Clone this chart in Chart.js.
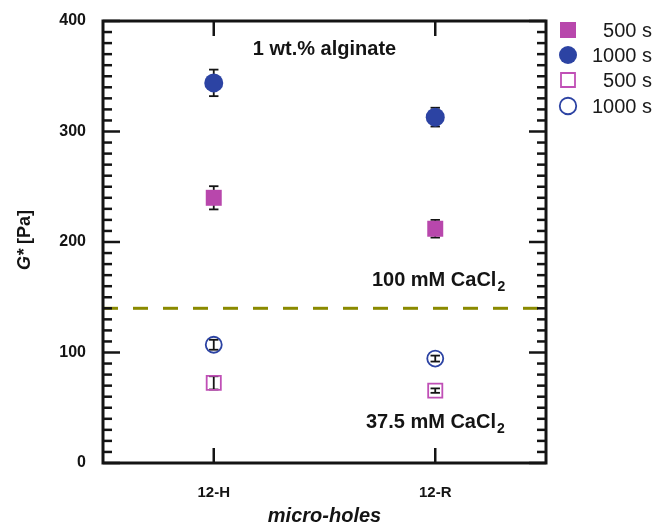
<!DOCTYPE html>
<html><head><meta charset="utf-8">
<script src="https://cdn.jsdelivr.net/npm/chart.js@4"></script>
<style>html,body{margin:0;padding:0;background:#fff;} #wrap{width:656px;height:524px;}</style>
</head><body><div id="wrap"><canvas id="c" width="656" height="524"></canvas></div>
<script>
// ---- data ----
const categories = ['12-H', '12-R'];
const xPos = [1, 2];
const yTicks = [0, 100, 200, 300, 400];
const seriesLabels = ['500 s', '1000 s', '500 s', '1000 s'];
// 100 mM CaCl2 (filled)
const g500Ca100 = [240, 212];
const e500Ca100 = [10.5, 8];
const g1000Ca100 = [344, 313];
const e1000Ca100 = [12, 8.5];
// 37.5 mM CaCl2 (open)
const g500Ca37 = [72.5, 65.5];
const e500Ca37 = [6, 2];
const g1000Ca37 = [107, 94.5];
const e1000Ca37 = [4.5, 2.7];
const separatorLevel = 140;

const MAG = '#B847AC', BLUE = '#2C43A3', OLIVE = '#8A8A00', INK = '#141414';
const FONT = '"Liberation Sans", Arial, sans-serif';

const pts = (vals, errs) => vals.map((v, i) => ({x: xPos[i], y: v, err: errs[i]}));

const datasets = [
  {label: seriesLabels[0], data: pts(g500Ca100, e500Ca100), pointStyle: 'rect', pointRadius: 11.3,
   backgroundColor: MAG, borderColor: MAG, borderWidth: 0, showLine: false},
  {label: seriesLabels[1], data: pts(g1000Ca100, e1000Ca100), pointStyle: 'circle', pointRadius: 9.5,
   backgroundColor: BLUE, borderColor: BLUE, borderWidth: 0, showLine: false},
  {label: seriesLabels[2], data: pts(g500Ca37, e500Ca37), pointStyle: 'rect', pointRadius: 10,
   backgroundColor: 'rgba(0,0,0,0)', borderColor: '#C04FB6', borderWidth: 1.8, showLine: false},
  {label: seriesLabels[3], data: pts(g1000Ca37, e1000Ca37), pointStyle: 'circle', pointRadius: 8,
   backgroundColor: 'rgba(0,0,0,0)', borderColor: BLUE, borderWidth: 1.8, showLine: false},
  {label: 'sep', type: 'line', data: [{x: 0.5, y: separatorLevel}, {x: 2.5, y: separatorLevel}],
   borderColor: OLIVE, borderWidth: 3, borderDash: [15, 15], pointRadius: 0, fill: false}
];

function line(ctx, x1, y1, x2, y2) { ctx.beginPath(); ctx.moveTo(x1, y1); ctx.lineTo(x2, y2); ctx.stroke(); }

const errorBars = {
  id: 'errorBars',
  beforeDatasetsDraw(chart) {
    const {ctx, scales: {x, y}} = chart;
    ctx.save();
    ctx.strokeStyle = INK; ctx.lineWidth = 1.8;
    chart.data.datasets.forEach(ds => {
      ds.data.forEach(p => {
        if (p.err === undefined) return;
        const px = x.getPixelForValue(p.x);
        const yt = y.getPixelForValue(p.y + p.err), yb = y.getPixelForValue(p.y - p.err);
        line(ctx, px, yt, px, yb);
        line(ctx, px - 4.7, yt, px + 4.7, yt);
        line(ctx, px - 4.7, yb, px + 4.7, yb);
      });
    });
    ctx.restore();
  }
};

function drawMarker(ctx, style, cx, cy, filled, color, size) {
  ctx.save();
  ctx.beginPath();
  if (style === 'rect') ctx.rect(cx - size / 2, cy - size / 2, size, size);
  else ctx.arc(cx, cy, size / 2, 0, Math.PI * 2);
  if (filled) { ctx.fillStyle = color; ctx.fill(); }
  else { ctx.strokeStyle = color; ctx.lineWidth = 1.8; ctx.stroke(); }
  ctx.restore();
}

function subText(ctx, main, sub, x, yb, size) {
  ctx.font = 'bold ' + size + 'px ' + FONT;
  ctx.textAlign = 'left'; ctx.textBaseline = 'alphabetic';
  ctx.fillText(main, x, yb);
  const w = ctx.measureText(main).width;
  ctx.font = 'bold ' + Math.round(size * 0.7) + 'px ' + FONT;
  ctx.fillText(sub, x + w + 1, yb + 5);
}

const frame = {
  id: 'frame',
  afterDraw(chart) {
    const {ctx, chartArea: a, scales: {x, y}} = chart;
    ctx.save();
    ctx.strokeStyle = INK; ctx.lineCap = 'butt';
    ctx.lineWidth = 2.5;
    for (let v = y.min; v <= y.max; v += 10) {
      const py = y.getPixelForValue(v);
      const len = (v % 100 === 0) ? 17 : 9;
      line(ctx, a.left, py, a.left + len, py);
      line(ctx, a.right, py, a.right - len, py);
    }
    xPos.forEach(v => {
      const px = x.getPixelForValue(v);
      line(ctx, px, a.bottom, px, a.bottom - 15);
      line(ctx, px, a.top, px, a.top + 15);
    });
    ctx.lineWidth = 3;
    ctx.strokeRect(a.left, a.top, a.right - a.left, a.bottom - a.top);

    // annotations
    ctx.fillStyle = INK;
    ctx.font = 'bold 20px ' + FONT;
    ctx.textAlign = 'center'; ctx.textBaseline = 'alphabetic';
    ctx.fillText('1 wt.% alginate', x.getPixelForValue(1.5), y.getPixelForValue(369));
    subText(ctx, '100 mM CaCl', '2', x.getPixelForValue(1.714), y.getPixelForValue(160.5), 20);
    subText(ctx, '37.5 mM CaCl', '2', x.getPixelForValue(1.687), y.getPixelForValue(31.5), 20);

    // axis titles
    ctx.save();
    ctx.translate(25, 240);
    ctx.rotate(-Math.PI / 2);
    ctx.textBaseline = 'middle'; ctx.textAlign = 'left';
    const t1 = 'G*', t2 = ' [Pa]';
    ctx.font = 'bold 18px ' + FONT;
    const w2 = ctx.measureText(t2).width;
    ctx.font = 'italic bold 18px ' + FONT;
    const w1 = ctx.measureText(t1).width;
    const sx = -(w1 + w2) / 2;
    ctx.fillText(t1, sx, 0);
    ctx.font = 'bold 18px ' + FONT;
    ctx.fillText(t2, sx + w1, 0);
    ctx.restore();

    ctx.font = 'italic bold 20px ' + FONT;
    ctx.textAlign = 'center'; ctx.textBaseline = 'alphabetic';
    ctx.fillText('micro-holes', (a.left + a.right) / 2, 522);

    // legend
    const rows = [30, 55, 80, 106];
    const specs = [['rect', true, MAG, 16], ['circle', true, BLUE, 18], ['rect', false, '#C04FB6', 14], ['circle', false, BLUE, 16.5]];
    ctx.font = '20px ' + FONT;
    ctx.textAlign = 'right'; ctx.textBaseline = 'alphabetic';
    seriesLabels.forEach((lab, i) => {
      const s = specs[i];
      drawMarker(ctx, s[0], 568, rows[i], s[1], s[2], s[3]);
      ctx.fillStyle = '#1a1a1a';
      ctx.fillText(lab, 652, rows[i] + 7);
    });
    ctx.restore();
  }
};

new Chart(document.getElementById('c'), {
  type: 'scatter',
  data: {datasets},
  options: {
    responsive: false,
    animation: false,
    layout: {padding: {top: 21, right: 110, left: 0, bottom: 0}},
    plugins: {legend: {display: false}, tooltip: {enabled: false}},
    scales: {
      x: {
        type: 'linear', min: 0.5, max: 2.5,
        grid: {display: false, drawTicks: false}, border: {display: false},
        afterBuildTicks: ax => { ax.ticks = xPos.map(v => ({value: v})); },
        afterFit: s => { s.height = 61; s.paddingLeft = 0; s.paddingRight = 0; },
        ticks: {callback: v => categories[xPos.indexOf(v)], font: {family: FONT, size: 15, weight: 'bold'}, color: INK, padding: 21, maxRotation: 0}
      },
      y: {
        type: 'linear', min: 0, max: 400,
        grid: {display: false, drawTicks: false}, border: {display: false},
        afterBuildTicks: ax => { ax.ticks = yTicks.map(v => ({value: v})); },
        afterFit: s => { s.width = 103; s.paddingTop = 0; s.paddingBottom = 0; },
        ticks: {font: {family: FONT, size: 16, weight: 'bold'}, color: INK, padding: 17}
      }
    }
  },
  plugins: [errorBars, frame]
});
</script></body></html>
